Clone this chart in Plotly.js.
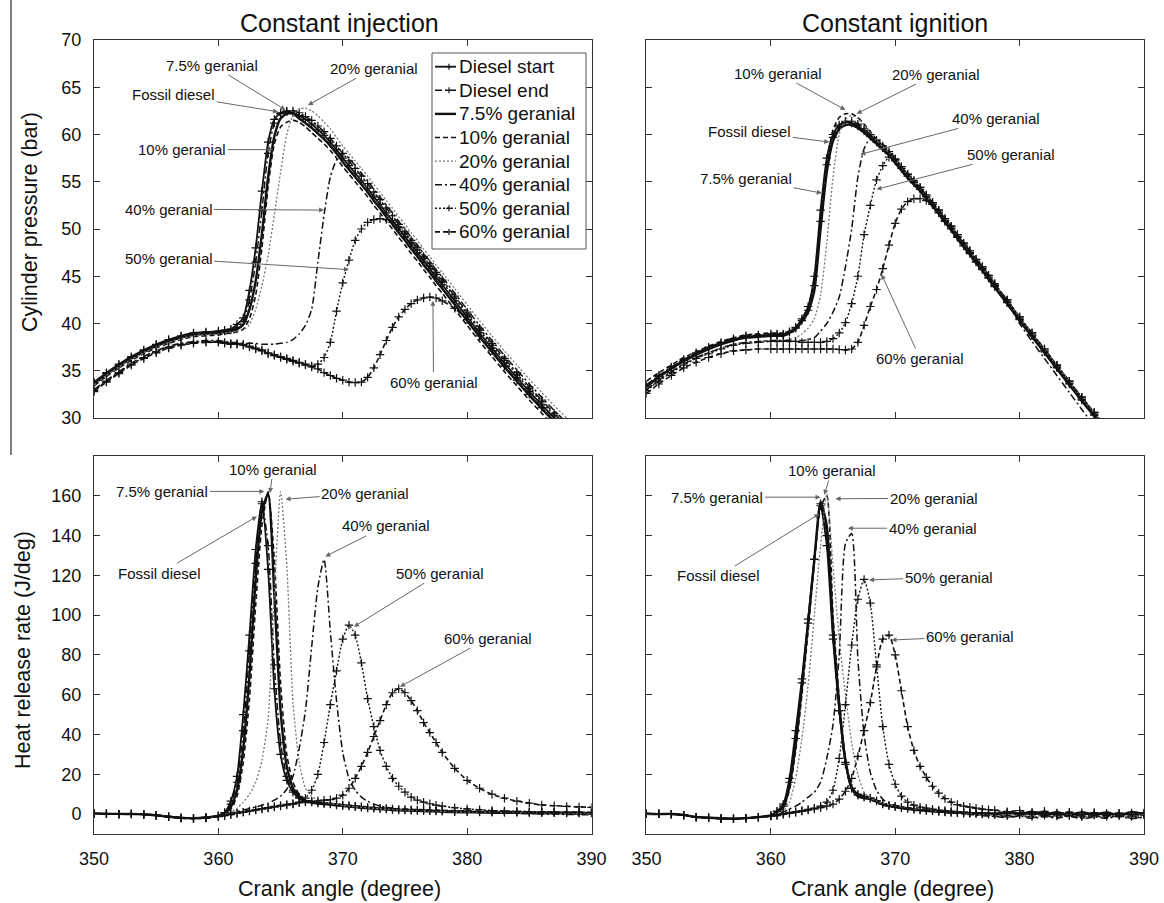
<!DOCTYPE html>
<html><head><meta charset="utf-8">
<script src="https://cdn.plot.ly/plotly-3.0.1.min.js"></script>
<style>html,body{margin:0;padding:0;background:#fff;} #chart{width:1164px;height:903px;}</style>
</head><body><div id="chart"></div>
<script>
// ---------------- data ----------------
const crankAngle = [350,351,352,353,354,355,356,357,358,359,360,360.5,361,361.5,362,362.5,363,363.5,364,364.5,365,365.5,366,366.5,367,367.5,368,368.5,369,369.5,370,370.5,371,371.5,372,372.5,373,373.5,374,374.5,375,375.5,376,376.5,377,377.5,378,379,380,381,382,383,384,385,386,387,388,389,390];
const seriesNames = ['Diesel start','Diesel end','7.5% geranial','10% geranial','20% geranial','40% geranial','50% geranial','60% geranial'];

// Cylinder pressure, constant injection (bar)
const pInjDieselStart = [33.8,34.8,35.7,36.5,37.2,37.8,38.3,38.7,39.0,39.1,39.2,39.3,39.4,39.9,40.6,43.5,48.0,54.0,59.2,61.6,62.3,62.4,62.3,62.0,61.6,61.1,60.5,59.9,59.2,58.4,57.5,56.7,55.9,55.1,54.3,53.4,52.6,51.7,50.9,50.0,49.2,48.3,47.5,46.6,45.8,44.9,44.1,42.4,40.7,39.0,37.4,35.8,34.3,32.8,31.4,30.0,28.7,27.4,26.2];
const pInjDieselEnd = [33.7,34.7,35.6,36.4,37.1,37.7,38.2,38.6,38.9,39.0,39.1,39.2,39.3,39.6,40.2,42.5,46.5,52.0,58.0,61.2,62.2,62.5,62.5,62.3,61.9,61.5,60.9,60.3,59.6,58.8,58.0,57.2,56.4,55.6,54.8,53.9,53.1,52.2,51.4,50.5,49.7,48.8,48.0,47.1,46.3,45.4,44.6,42.9,41.2,39.5,37.9,36.3,34.8,33.3,31.9,30.5,29.2,27.9,26.7];
const pInjGer75 = [33.6,34.6,35.5,36.3,37.0,37.6,38.1,38.5,38.8,38.9,39.0,39.1,39.2,39.4,39.9,41.5,44.5,49.5,55.5,59.8,61.7,62.2,62.2,61.7,61.2,60.7,60.1,59.5,58.8,58.0,57.1,56.3,55.5,54.7,53.9,53.0,52.2,51.3,50.5,49.6,48.8,47.9,47.1,46.2,45.4,44.5,43.7,42.0,40.3,38.6,37.0,35.4,33.9,32.4,31.0,29.6,28.3,27.0,25.8];
const pInjGer10 = [33.4,34.4,35.3,36.1,36.8,37.4,37.9,38.3,38.6,38.7,38.8,38.9,39.0,39.1,39.4,40.5,43.0,48.0,54.5,59.0,60.8,61.3,61.5,61.3,60.8,60.2,59.6,59.0,58.3,57.5,56.6,55.8,55.0,54.2,53.4,52.5,51.7,50.8,50.0,49.1,48.3,47.4,46.6,45.7,44.9,44.0,43.2,41.5,39.8,38.1,36.5,34.9,33.4,31.9,30.5,29.1,27.8,26.5,25.3];
const pInjGer20 = [33.5,34.5,35.4,36.2,36.9,37.5,38.0,38.4,38.7,38.8,38.9,39.0,39.1,39.2,39.3,39.9,41.5,44.0,47.2,51.5,56.0,60.0,62.0,62.7,62.8,62.5,62.0,61.3,60.6,59.7,58.8,58.0,57.2,56.4,55.6,54.7,53.9,53.0,52.2,51.3,50.5,49.6,48.8,47.9,47.1,46.2,45.4,43.7,42.0,40.3,38.7,37.1,35.6,34.1,32.7,31.3,30.0,28.7,27.5];
const pInjGer40 = [33.0,34.0,34.9,35.8,36.5,37.1,37.6,37.9,38.1,38.2,38.2,38.1,38.0,38.0,37.9,37.9,37.9,37.8,37.8,37.8,37.9,38.0,38.3,38.9,39.8,41.5,46.5,51.5,55.5,57.3,58.0,57.5,56.7,55.9,55.1,54.2,53.4,52.5,51.7,50.8,50.0,49.1,48.3,47.4,46.6,45.7,44.9,43.2,41.5,39.8,38.2,36.6,35.1,33.6,32.2,30.8,29.5,28.2,27.0];
const pInjGer50 = [32.9,33.9,34.8,35.7,36.4,37.0,37.5,37.8,38.0,38.1,38.1,38.0,37.9,37.9,37.8,37.6,37.4,37.2,36.9,36.7,36.5,36.3,36.1,35.9,35.7,35.5,35.7,36.4,38.0,41.3,44.3,46.7,48.8,50.0,50.7,51.0,51.1,51.0,50.7,50.2,49.5,48.6,47.8,46.9,46.1,45.2,44.4,42.7,41.0,39.3,37.7,36.1,34.6,33.1,31.7,30.3,29.0,27.7,26.5];
const pInjGer60 = [32.8,33.8,34.7,35.6,36.3,36.9,37.4,37.7,37.9,38.0,38.0,37.9,37.8,37.8,37.7,37.5,37.3,37.1,36.8,36.6,36.4,36.2,36.0,35.8,35.6,35.4,35.2,34.8,34.5,34.2,34.0,33.8,33.75,33.8,34.3,35.3,36.7,38.2,39.6,40.7,41.5,42.1,42.5,42.7,42.8,42.7,42.4,41.6,40.4,38.7,37.1,35.5,34.0,32.5,31.1,29.7,28.4,27.1,25.9];

// Cylinder pressure, constant ignition (bar)
const pIgnDieselStart = [33.4,34.4,35.3,36.1,36.8,37.4,37.9,38.3,38.6,38.7,38.8,38.8,38.8,39.1,39.6,40.5,41.8,45.0,52.0,57.5,60.0,61.0,61.4,61.2,60.9,60.4,59.8,59.2,58.6,58.0,57.2,56.4,55.6,54.9,54.2,53.4,52.6,51.8,50.9,50.1,49.2,48.3,47.5,46.6,45.8,44.9,44.0,42.3,40.5,38.8,37.1,35.4,33.7,32.0,30.4,28.8,27.2,25.7,24.2];
const pIgnDieselEnd = [33.5,34.5,35.4,36.2,36.9,37.5,38.0,38.4,38.7,38.8,38.9,38.9,38.9,39.1,39.5,40.3,41.4,44.0,50.8,56.8,59.7,60.8,61.3,61.4,61.1,60.6,60.0,59.4,58.8,58.2,57.4,56.6,55.8,55.1,54.4,53.6,52.8,52.0,51.1,50.3,49.4,48.5,47.7,46.8,46.0,45.1,44.2,42.5,40.7,39.0,37.3,35.6,33.9,32.2,30.6,29.0,27.4,25.9,24.4];
const pIgnGer75 = [33.3,34.3,35.2,36.0,36.7,37.3,37.8,38.2,38.5,38.6,38.7,38.7,38.7,39.0,39.4,40.2,41.2,43.5,50.0,56.0,59.3,60.6,61.0,61.0,60.7,60.2,59.6,59.0,58.4,57.8,57.0,56.2,55.4,54.7,54.0,53.2,52.4,51.6,50.7,49.9,49.0,48.1,47.3,46.4,45.6,44.7,43.8,42.1,40.3,38.6,36.9,35.2,33.5,31.8,30.2,28.6,27.0,25.5,24.0];
const pIgnGer10 = [33.9,34.8,35.6,36.4,37.0,37.6,38.1,38.5,38.8,38.9,39.0,39.0,39.0,39.2,39.6,40.4,41.8,44.5,51.0,57.0,60.5,61.8,62.2,62.2,61.8,61.1,60.3,59.5,58.8,58.1,57.3,56.5,55.7,55.0,54.3,53.5,52.7,51.9,51.0,50.2,49.3,48.4,47.6,46.7,45.9,45.0,44.1,42.4,40.6,38.9,37.2,35.5,33.8,32.1,30.5,28.9,27.3,25.8,24.3];
const pIgnGer20 = [33.0,34.0,34.9,35.7,36.4,36.9,37.4,37.8,38.0,38.1,38.2,38.2,38.2,38.3,38.5,38.9,39.5,40.5,43.0,48.5,55.5,60.0,61.6,62.0,61.7,61.0,60.2,59.4,58.7,58.1,57.3,56.5,55.7,55.0,54.3,53.5,52.7,51.9,51.0,50.2,49.3,48.4,47.6,46.7,45.9,45.0,44.1,42.4,40.6,38.9,37.2,35.5,33.8,32.1,30.5,28.9,27.3,25.8,24.3];
const pIgnGer40 = [33.0,34.0,34.9,35.7,36.4,36.9,37.4,37.8,38.0,38.1,38.2,38.2,38.2,38.2,38.2,38.2,38.3,38.5,39.2,40.0,41.2,42.8,46.0,50.0,55.5,58.5,59.6,59.6,59.0,58.3,57.5,56.6,55.8,55.1,54.4,53.6,52.8,52.0,51.1,50.3,49.4,48.5,47.7,46.8,46.0,45.1,44.2,42.3,40.0,38.1,36.3,34.5,32.7,30.9,29.2,27.5,25.8,24.2,22.6];
const pIgnGer50 = [32.9,33.9,34.8,35.6,36.3,36.8,37.3,37.7,37.9,38.0,38.1,38.1,38.1,38.1,38.1,38.0,38.0,38.0,38.0,38.1,38.4,39.0,40.1,42.1,45.0,49.4,52.5,55.2,56.7,57.6,57.4,56.6,55.8,55.1,54.4,53.6,52.8,52.0,51.1,50.3,49.4,48.5,47.7,46.8,46.0,45.1,44.2,42.5,40.7,39.0,37.3,35.6,33.9,32.2,30.6,29.0,27.4,25.9,24.4];
const pIgnGer60 = [32.6,33.6,34.5,35.3,35.9,36.4,36.8,37.1,37.2,37.3,37.3,37.3,37.3,37.3,37.3,37.3,37.3,37.3,37.3,37.3,37.3,37.25,37.2,37.3,38.0,39.8,41.8,43.6,45.8,48.3,50.6,52.1,52.9,53.2,53.2,53.0,52.6,51.7,50.8,50.0,49.1,48.2,47.4,46.5,45.7,44.8,43.9,42.2,40.4,38.7,37.0,35.3,33.6,31.9,30.3,28.7,27.1,25.6,24.1];

// Heat release rate, constant injection (J/deg)
const hInjDieselStart = [0.3,0.2,0.0,0.2,0.0,-0.5,-1.2,-1.8,-2.0,-1.6,-0.8,0.8,6.5,19,50,90,133,157,123,63,30,17,11,8,6.5,6,5.5,5.2,5,4.6,4.3,4,3.7,3.4,3.1,2.9,2.7,2.5,2.3,2.1,2.0,1.9,1.8,1.7,1.6,1.5,1.4,1.2,1.1,1.0,0.9,0.8,0.8,0.7,0.6,0.6,0.5,0.5,0.4];
const hInjDieselEnd = [0.1,0.3,-0.1,0.1,-0.2,-0.7,-1.4,-1.9,-2.1,-1.7,-0.9,0.6,5,16,42,82,126,156,135,75,36,19,12,8.5,6.8,6.3,5.8,5.5,5.3,4.9,4.6,4.3,4.0,3.7,3.4,3.2,3.0,2.8,2.6,2.4,2.3,2.2,2.1,2.0,1.9,1.8,1.7,1.5,1.4,1.3,1.2,1.1,1.1,1.0,0.9,0.9,0.8,0.8,0.7];
const hInjGer75 = [0.2,0.1,0.1,0.0,-0.1,-0.6,-1.3,-1.9,-2.0,-1.7,-0.9,0.4,3.5,12,33,70,118,152,161,110,52,24,13,9,6.3,5.8,5.3,5.0,4.8,4.4,4.1,3.8,3.5,3.2,2.9,2.7,2.5,2.3,2.1,1.9,1.8,1.7,1.6,1.5,1.4,1.3,1.2,1.0,0.9,0.8,0.7,0.6,0.6,0.5,0.4,0.4,0.3,0.3,0.2];
const hInjGer10 = [0.3,0.1,0.0,0.1,-0.1,-0.5,-1.2,-1.8,-2.1,-1.8,-1.0,0.3,2.5,9,26,58,105,145,162,128,66,30,16,10,7.0,6.5,6.0,5.7,5.5,5.1,4.8,4.5,4.2,3.9,3.6,3.4,3.2,3.0,2.8,2.6,2.5,2.4,2.3,2.2,2.1,2.0,1.9,1.7,1.6,1.5,1.4,1.3,1.3,1.2,1.1,1.1,1.0,1.0,0.9];
const hInjGer20 = [0.2,0.2,0.0,0.1,0.0,-0.6,-1.3,-1.9,-2.1,-1.8,-1.1,-0.2,1,3,6,10,16,27,48,110,162,125,56,26,13,9,7,6,5.4,5,4.3,4,3.7,3.4,3.1,2.9,2.7,2.5,2.3,2.1,2.0,1.9,1.8,1.7,1.6,1.5,1.4,1.2,1.1,1.0,0.9,0.8,0.8,0.7,0.6,0.6,0.5,0.5,0.4];
const hInjGer40 = [0.2,0.1,0.1,0.1,-0.1,-0.6,-1.3,-1.9,-2.1,-1.8,-1.1,-0.3,0.5,1.2,2,2.8,3.5,4.5,5.5,7,9,12.5,19,33,52,84,114,128,92,57,31,18,12,8.5,6.5,5,4,3.4,3,2.7,2.5,2.3,2.1,2,1.9,1.8,1.7,1.5,1.3,1.0,0.8,0.6,0.4,0.3,0.1,0.0,-0.2,-0.3,-0.4];
const hInjGer50 = [0.3,0.2,0.0,0.0,-0.2,-0.7,-1.4,-2.0,-2.2,-1.9,-1.2,-0.5,0,0.5,1,1.5,2,2.5,3,3.5,4,4.5,5,6,8,12,20,36,55,72,88,95,90,76,58,44,32,24,18,14,11,8.5,7,6,5.2,4.5,4,3.2,2.6,2.2,1.8,1.6,1.4,1.2,1.1,1,1,0.9,0.8];
const hInjGer60 = [0.2,0.1,0.0,0.0,-0.2,-0.7,-1.4,-2.0,-2.3,-2.0,-1.3,-0.8,-0.3,0.3,1,1.6,2.2,2.8,3.3,3.9,4.4,4.9,5.3,5.7,6.1,6.4,6.7,7,7.3,8,9.5,13,18,24,31,39,47,55,61,63,61,57,52,46,41,36,31,23,17,13,10,8,6.5,5.5,4.6,4.2,3.9,3.6,3.4];

// Heat release rate, constant ignition (J/deg)
const hIgnDieselStart = [0.2,0.1,0.0,-0.5,-1.5,-1.8,-2.2,-2.3,-2.0,-1.5,-0.8,1.5,5,18,42,68,98,128,155,135,88,52,26,13,9.5,8.5,8,6.5,5,4.2,3.7,3.2,2.8,2.4,2,1.8,1.6,1.4,1.2,1.0,0.8,0.7,0.6,0.5,0.4,0.4,0.3,0.2,0.6,-0.2,0.7,-0.3,0.5,-0.4,0.4,-0.5,0.3,-0.3,0.5];
const hIgnDieselEnd = [0.1,0.2,-0.1,-0.6,-1.6,-1.9,-2.3,-2.4,-2.1,-1.6,-0.9,1.2,4,16,38,66,96,128,156,140,90,52,25,13,10,9,8,6.8,5.3,4.5,4.0,3.5,3.0,2.6,2.2,1.9,1.6,1.3,1.0,0.8,0.6,0.4,0.3,0.2,0.0,-0.2,-0.3,-0.8,0.2,-1.2,0.0,-1.0,-0.2,-1.3,-0.4,-1.1,-0.3,-1.2,-0.5];
const hIgnGer75 = [0.2,0.0,0.1,-0.4,-1.4,-1.8,-2.1,-2.3,-2.0,-1.5,-0.7,1.0,3.5,14,35,64,96,128,157,145,94,55,27,13,9,8,7.5,6.2,4.8,4,3.5,3,2.6,2.2,1.9,1.6,1.4,1.2,1.0,0.8,0.7,0.6,0.5,0.4,0.3,0.2,0.2,1.0,0.0,1.2,-0.3,0.9,-0.5,1.0,-0.2,0.8,-0.6,1.1,0.0];
const hIgnGer10 = [0.3,0.1,0.0,-0.5,-1.5,-1.9,-2.2,-2.4,-2.1,-1.6,-0.8,0.8,3,12,32,60,92,126,154,160,100,58,28,14,10,9,8.2,7,5.5,4.6,4.0,3.4,2.9,2.5,2.1,1.7,1.4,1.1,0.8,0.6,0.4,0.2,0.0,-0.2,-0.4,-0.6,-0.8,-1.5,-0.6,-1.8,-0.9,-1.6,-0.7,-1.9,-1.0,-1.7,-0.8,-2.0,-1.2];
const hIgnGer20 = [0.2,0.1,0.0,-0.5,-1.5,-1.8,-2.2,-2.3,-2.0,-1.6,-0.9,0.3,1.5,6,18,38,65,100,135,161,125,88,60,36,20,11,8,6.5,5.5,4.8,4.2,3.6,3.1,2.7,2.3,2.0,1.7,1.4,1.2,1.0,0.8,0.6,0.4,0.2,0.0,-0.2,-0.4,-1.0,-0.2,-1.4,-0.5,-1.2,-0.3,-1.5,-0.6,-1.3,-0.4,-1.6,-0.8];
const hIgnGer40 = [0.2,0.1,0.0,-0.5,-1.5,-1.8,-2.2,-2.3,-2.0,-1.5,-0.8,0,1,2.5,4,6,8.5,11,16,28,45,80,136,141,78,40,21,12,7.5,5.5,4.5,3.8,3.2,2.7,2.3,2.0,1.6,1.3,1.0,0.7,0.4,0.1,-0.2,-0.5,-0.8,-1.0,-1.2,-1.8,-1.0,-2.2,-1.3,-2.0,-1.1,-2.4,-1.5,-2.1,-1.2,-2.3,-1.6];
const hIgnGer50 = [0.2,0.1,0.0,-0.5,-1.5,-1.8,-2.2,-2.3,-2.0,-1.5,-0.8,-0.3,0.3,0.8,1.3,1.8,2.4,3,4,6,12,28,55,85,108,118,106,75,44,25,15,9,6,4.5,3.5,3,2.5,2,1.8,1.5,1.2,1.0,0.8,0.6,0.4,0.3,0.2,0.8,-0.4,0.9,-0.6,0.6,-0.8,0.7,-0.5,0.5,-0.9,0.6,-0.4];
const hIgnGer60 = [0.2,0.1,0.0,-0.5,-1.5,-1.8,-2.2,-2.3,-2.0,-1.5,-1.0,-0.8,-0.2,0.3,0.8,1.4,2,2.6,3.2,4,5,7.5,11.5,18,29,42,56,74,88,90,80,62,44,32,24,18.5,14,10.5,7.8,6,4.8,4,3.5,3,2.5,2.2,2,1.2,1.8,0.6,1.4,0.2,1.0,-0.2,0.8,-0.4,0.5,-0.3,0.6];

// ---------------- styling ----------------
const FONT = 'Liberation Sans, Arial, Helvetica, sans-serif';
const INK = '#111';
const styles = [
  {dash:'solid',              width:1.8, color:INK,    markers:true},
  {dash:'7px,3px,2px,3px',    width:1.5, color:INK,    markers:true},
  {dash:'solid',              width:2.4, color:INK,    markers:false},
  {dash:'5px,3px',            width:1.6, color:INK,    markers:false},
  {dash:'2px,2px',            width:1.3, color:'#777', markers:false},
  {dash:'7px,3px,2px,3px',    width:1.5, color:INK,    markers:false},
  {dash:'2px,2px',            width:1.4, color:INK,    markers:true},
  {dash:'5px,3px',            width:1.6, color:INK,    markers:true}
];

const panels = [
  {xa:'x',  ya:'y',  data:[pInjDieselStart,pInjDieselEnd,pInjGer75,pInjGer10,pInjGer20,pInjGer40,pInjGer50,pInjGer60]},
  {xa:'x2', ya:'y2', data:[pIgnDieselStart,pIgnDieselEnd,pIgnGer75,pIgnGer10,pIgnGer20,pIgnGer40,pIgnGer50,pIgnGer60]},
  {xa:'x3', ya:'y3', data:[hInjDieselStart,hInjDieselEnd,hInjGer75,hInjGer10,hInjGer20,hInjGer40,hInjGer50,hInjGer60]},
  {xa:'x4', ya:'y4', data:[hIgnDieselStart,hIgnDieselEnd,hIgnGer75,hIgnGer10,hIgnGer20,hIgnGer40,hIgnGer50,hIgnGer60]}
];

const traces = [];
panels.forEach(p => {
  p.data.forEach((vals, i) => {
    const st = styles[i];
    traces.push({
      type:'scatter', x: crankAngle, y: vals, xaxis: p.xa, yaxis: p.ya,
      name: seriesNames[i], showlegend:false,
      mode: st.markers ? 'lines+markers' : 'lines',
      line: {color: st.color, width: st.width, dash: st.dash, shape:'spline', smoothing:0.6},
      marker: {symbol:'cross-thin', size:6, color:INK, line:{width:1.2, color:INK}},
      hoverinfo:'skip'
    });
  });
});

// annotation labels: [text, axis suffix, tipX, tipY, textX, textY]
const labels = [
  ['7.5% geranial','', 365.4, 62.6, 359.5, 67.35],
  ['20% geranial','', 367.2, 63.1, 372.5, 67.0],
  ['Fossil diesel','', 364.8, 62.4, 356.4, 64.2],
  ['10% geranial','', 364.4, 58.4, 357.1, 58.4],
  ['40% geranial','', 368.5, 52.0, 356.0, 52.1],
  ['50% geranial','', 370.5, 45.7, 356.0, 46.9],
  ['60% geranial','', 377.25, 42.4, 377.3, 33.8],

  ['10% geranial','2', 366.0, 62.6, 360.6, 66.5],
  ['20% geranial','2', 366.9, 62.2, 373.3, 66.4],
  ['40% geranial','2', 367.2, 57.9, 378.1, 61.7],
  ['50% geranial','2', 368.5, 54.2, 379.3, 57.9],
  ['Fossil diesel','2', 364.7, 59.2, 358.3, 60.3],
  ['7.5% geranial','2', 364.1, 53.8, 358.0, 55.3],
  ['60% geranial','2', 368.9, 45.2, 372.0, 36.3],

  ['7.5% geranial','3', 363.7, 162.2, 355.5, 162.2],
  ['10% geranial','3', 364.15, 161.4, 364.4, 173.4],
  ['20% geranial','3', 365.4, 158.3, 371.8, 161.3],
  ['40% geranial','3', 368.6, 129.5, 373.5, 144.9],
  ['50% geranial','3', 370.9, 94.2, 377.85, 121.1],
  ['60% geranial','3', 374.6, 64.0, 381.7, 88.4],
  ['Fossil diesel','3', 363.1, 149.6, 355.3, 121.1],

  ['10% geranial','4', 364.3, 160.5, 364.9, 172.7],
  ['7.5% geranial','4', 364.0, 159.3, 355.7, 159.3],
  ['20% geranial','4', 365.2, 158.5, 373.1, 158.8],
  ['40% geranial','4', 366.2, 143.7, 373.0, 143.7],
  ['50% geranial','4', 367.9, 117.7, 374.3, 119.1],
  ['60% geranial','4', 369.7, 87.5, 376.0, 89.2],
  ['Fossil diesel','4', 363.9, 150.9, 355.8, 119.7]
];

const annotations = labels.map(l => ({
  text: l[0], xref:'x'+l[1], yref:'y'+l[1], axref:'x'+l[1], ayref:'y'+l[1],
  x: l[2], y: l[3], ax: l[4], ay: l[5],
  showarrow:true, arrowhead:2, arrowsize:1, arrowwidth:1, arrowcolor:'#666',
  standoff:0, startstandoff:0, font:{family:FONT, size:15, color:INK}
}));

const W = 1164, H = 903;
const px = v => v / W, py = v => (H - v) / H;
function paperText(text, x, y, size, angle) {
  return {text, xref:'paper', yref:'paper', x:px(x), y:py(y), xanchor:'center', yanchor:'middle',
    textangle: angle || 0, showarrow:false, font:{family:FONT, size, color:INK}};
}
annotations.push(
  paperText('Constant injection', 339, 23, 25),
  paperText('Constant ignition', 895, 23, 25),
  paperText('Cylinder pressure (bar)', 30, 222, 21.5, -90),
  paperText('Heat release rate (J/deg)', 23, 650, 21.5, -90),
  paperText('Crank angle (degree)', 339, 889, 21.5),
  paperText('Crank angle (degree)', 892, 889, 21.5)
);

// ---- legend (drawn as shapes + text inside the top-left panel) ----
const shapes = [
  {type:'line', xref:'paper', yref:'paper', x0:px(11), x1:px(11), y0:py(455), y1:1, line:{color:'#555', width:1.5}},
  {type:'rect', xref:'paper', yref:'paper', layer:'above', x0:px(432), x1:px(586), y0:py(249), y1:py(53),
    fillcolor:'#fff', line:{color:'#555', width:1}}
];
seriesNames.forEach((name, i) => {
  const st = styles[i];
  const yy = 66.7 + 23.6 * i;
  shapes.push({type:'line', xref:'paper', yref:'paper', layer:'above', x0:px(435), x1:px(456), y0:py(yy), y1:py(yy),
    line:{color:st.color, width:st.width, dash:st.dash}});
  if (st.markers) {
    shapes.push({type:'line', xref:'paper', yref:'paper', layer:'above', x0:px(449), x1:px(449), y0:py(yy-3), y1:py(yy+3), line:{color:INK, width:1.2}});
    shapes.push({type:'line', xref:'paper', yref:'paper', layer:'above', x0:px(446), x1:px(452), y0:py(yy), y1:py(yy), line:{color:INK, width:1.2}});
  }
  annotations.push({text:name, xref:'paper', yref:'paper', x:px(457), y:py(yy), xanchor:'left', yanchor:'middle',
    showarrow:false, font:{family:FONT, size:19, color:INK}});
});

const xDomL = [px(94), px(591.5)], xDomR = [px(646.4), px(1144)];
const yDomT = [py(418), py(40)], yDomB = [py(834), py(456)];

function xAxis(domain, anchor, labelsOn) {
  return {domain, anchor, range:[350,390], tickvals:[350,360,370,380,390], showticklabels:labelsOn,
    ticks:'inside', ticklen:6, tickcolor:'#333', showline:true, mirror:'ticks', linecolor:'#333', linewidth:1,
    showgrid:false, zeroline:false, tickfont:{family:FONT, size:18, color:INK}, ticklabelstandoff:8};
}
function yAxis(domain, anchor, range, vals, labelsOn) {
  return {domain, anchor, range, tickvals:vals, showticklabels:labelsOn,
    ticks:'inside', ticklen:6, tickcolor:'#333', showline:true, mirror:'ticks', linecolor:'#333', linewidth:1,
    showgrid:false, zeroline:false, tickfont:{family:FONT, size:18, color:INK}, ticklabelstandoff:8};
}
const pTicks = [30,35,40,45,50,55,60,65,70];
const hTicks = [0,20,40,60,80,100,120,140,160];

const layout = {
  width:W, height:H, margin:{l:0,r:0,t:0,b:0}, paper_bgcolor:'#fff', plot_bgcolor:'#fff',
  font:{family:FONT, color:INK}, showlegend:false,
  xaxis: xAxis(xDomL,'y',false),
  yaxis: yAxis(yDomT,'x',[30,70],pTicks,true),
  xaxis2: xAxis(xDomR,'y2',false),
  yaxis2: yAxis(yDomT,'x2',[30,70],pTicks,false),
  xaxis3: xAxis(xDomL,'y3',true),
  yaxis3: yAxis(yDomB,'x3',[-10,180],hTicks,true),
  xaxis4: xAxis(xDomR,'y4',true),
  yaxis4: yAxis(yDomB,'x4',[-10,180],hTicks,false),
  annotations, shapes
};

Plotly.newPlot('chart', traces, layout, {displayModeBar:false, staticPlot:true});
</script>
</body></html>
